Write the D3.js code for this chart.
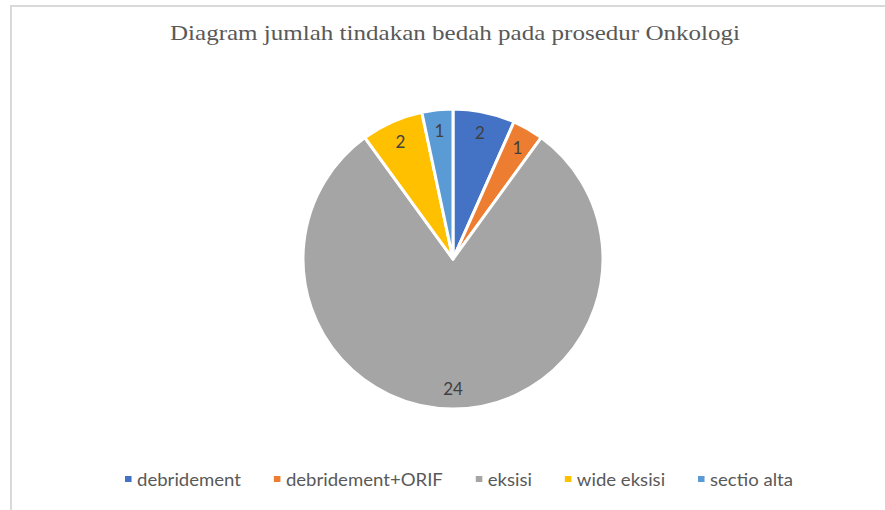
<html>
  <script src='https://d3js.org/d3.v7.min.js'></script>
  <head>
    <title>Diagram Onkologi</title>
    <style>
      body { margin: 0; background: #fff; }
    </style>
  </head>
  <body>
    <svg></svg>
    <script>
      // chart data
      const categories = ["debridement", "debridement+ORIF", "eksisi", "wide eksisi", "sectio alta"];
      const counts = [2, 1, 24, 2, 1];
      const colors = ["#4472C4", "#ED7D31", "#A5A5A5", "#FFC000", "#5B9BD5"];
      const title = "Diagram jumlah tindakan bedah pada prosedur Onkologi";

      const width = 885;
      const height = 510;
      const cx = 453, cy = 259, radius = 150;

      const svg = d3.select("svg")
        .attr("width", width)
        .attr("height", height);

      // frame lines (top and left only)
      svg.append("line")
        .attr("x1", 10).attr("x2", width).attr("y1", 6).attr("y2", 6)
        .attr("stroke", "#d9d9d9").attr("stroke-width", 2);
      svg.append("line")
        .attr("x1", 11).attr("x2", 11).attr("y1", 6).attr("y2", height)
        .attr("stroke", "#d9d9d9").attr("stroke-width", 2);

      svg.append("text")
        .text(title)
        .attr("x", 455)
        .attr("y", 40)
        .attr("text-anchor", "middle")
        .attr("textLength", 570)
        .attr("lengthAdjust", "spacingAndGlyphs")
        .style("font-family", "'Liberation Serif', 'Times New Roman', serif")
        .style("font-size", "22px")
        .style("fill", "#595959");

      const pie = d3.pie().sort(null).value(function(d) { return d; });
      const arcs = pie(counts);
      const arc = d3.arc().innerRadius(0).outerRadius(radius);
      const labelArc = d3.arc().innerRadius(radius * 0.86).outerRadius(radius * 0.86);

      const g = svg.append("g").attr("transform", "translate(" + cx + "," + cy + ")");

      g.selectAll("path.slice")
        .data(arcs)
        .enter()
        .append("path")
        .attr("class", "slice")
        .attr("d", arc)
        .attr("fill", function(d, i) { return colors[i]; })
        .attr("stroke", "#fff")
        .attr("stroke-width", 3)
        .attr("stroke-linejoin", "round");

      g.selectAll("text.lbl")
        .data(arcs)
        .enter()
        .append("text")
        .attr("class", "lbl")
        .text(function(d) { return d.data; })
        .attr("transform", function(d) { return "translate(" + labelArc.centroid(d) + ")"; })
        .attr("text-anchor", "middle")
        .attr("dominant-baseline", "central")
        .style("font-family", "Lato, 'Open Sans', sans-serif")
        .style("font-size", "17px")
        .style("fill", "#404040");

      // legend
      const legend = svg.append("g");
      var xPos = 0;
      categories.forEach(function(name, i) {
        const item = legend.append("g").attr("transform", "translate(" + xPos + ",0)");
        item.append("rect")
          .attr("x", 0).attr("y", -3)
          .attr("width", 6).attr("height", 6)
          .attr("fill", colors[i]);
        const t = item.append("text")
          .text(name)
          .attr("x", 11)
          .attr("y", 0)
          .attr("dominant-baseline", "central")
          .style("font-family", "Lato, 'Open Sans', sans-serif")
          .style("font-size", "17px")
          .style("fill", "#595959");
        xPos += 11 + t.node().getComputedTextLength() + 30;
      });
      const legendWidth = xPos - 30;
      const targetWidth = 668;
      const sx = targetWidth / legendWidth;
      legend.attr("transform", "translate(125,479) scale(" + sx + ",1)");
    </script>
  </body>
</html>
